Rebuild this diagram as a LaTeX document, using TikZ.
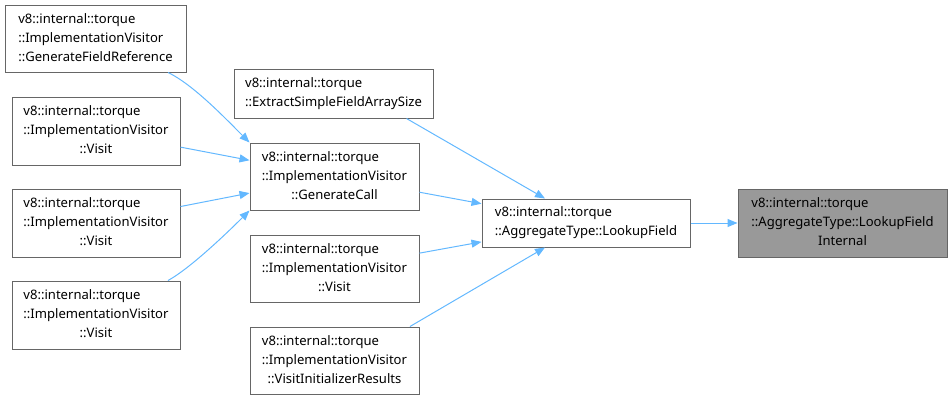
\documentclass[tikz,border=0pt]{standalone}
\usepackage{fontspec}
\setmainfont{Noto Sans}
\usetikzlibrary{arrows.meta}
\definecolor{edgeblue}{HTML}{63B8FF}
\definecolor{boxline}{HTML}{666666}
\definecolor{curfill}{HTML}{999999}
\tikzset{
    % function box of the call graph
    fnbox/.style={draw=boxline, line width=0.75pt, fill=white, inner sep=0pt,
        font=\fontsize{9.8}{14.25}\selectfont, align=left},
    % the function the graph is drawn for
    curbox/.style={fnbox, fill=curfill},
    % caller -> callee edges
    edge/.style={-{Triangle[length=7.5pt, width=6pt]}, edgeblue, line width=0.75pt},
}
% three line label: first lines left, last line centred
\newcommand{\fnname}[3]{\begin{tabular}{@{}l@{}}#1\\#2\\\multicolumn{1}{@{}c@{}}{#3}\end{tabular}}

\begin{document}
\begin{tikzpicture}[x=0.75pt, y=-0.75pt]
    \useasboundingbox (0,0) rectangle (952,400);

    % ---- callers of GenerateCall ----
    \node[fnbox, minimum width=135.75pt, minimum height=50.25pt] (gfr) at (95.5, 38.5)
        {\fnname{v8::internal::torque}{::ImplementationVisitor}{::GenerateFieldReference}};
    \node[fnbox, minimum width=126pt, minimum height=51pt] (visA) at (96, 131)
        {\fnname{v8::internal::torque}{::ImplementationVisitor}{::Visit}};
    \node[fnbox, minimum width=126pt, minimum height=51pt] (visB) at (96, 223)
        {\fnname{v8::internal::torque}{::ImplementationVisitor}{::Visit}};
    \node[fnbox, minimum width=126pt, minimum height=51pt] (visC) at (96, 315)
        {\fnname{v8::internal::torque}{::ImplementationVisitor}{::Visit}};

    % ---- direct callers of LookupField ----
    \node[fnbox, minimum width=149.25pt, minimum height=36.75pt] (esfas) at (333.5, 93.5)
        {v8::internal::torque\\::ExtractSimpleFieldArraySize};
    \node[fnbox, minimum width=126.75pt, minimum height=50.25pt] (gcall) at (334.5, 176.5)
        {\fnname{v8::internal::torque}{::ImplementationVisitor}{::GenerateCall}};
    \node[fnbox, minimum width=126.75pt, minimum height=50.25pt] (visD) at (334.5, 268.5)
        {\fnname{v8::internal::torque}{::ImplementationVisitor}{::Visit}};
    \node[fnbox, minimum width=126.75pt, minimum height=50.25pt] (vir) at (334.5, 360.5)
        {\fnname{v8::internal::torque}{::ImplementationVisitor}{::VisitInitializerResults}};

    % ---- LookupField and the graphed function ----
    \node[fnbox, minimum width=156pt, minimum height=36pt] (lookup) at (586, 223)
        {v8::internal::torque\\::AggregateType::LookupField};
    \node[curbox, minimum width=156.75pt, minimum height=51pt] (lfint) at (842.5, 223)
        {\fnname{v8::internal::torque}{::AggregateType::LookupField}{Internal}};

    % edges into GenerateCall
    \draw[edge] ([xshift=54.4pt]gfr.south) .. controls +(25,12) and +(-25,-25) .. (gcall.north west);
    \draw[edge] (visA) -- (gcall);
    \draw[edge] (visB) -- (gcall);
    \draw[edge] ([xshift=54pt]visC.north) .. controls +(22,-12) and +(-22,22) .. (gcall.south west);

    % edges into LookupField
    \draw[edge] ([xshift=54.75pt]esfas.south) -- ([xshift=-30.75pt]lookup.north);
    \draw[edge] (gcall) -- (lookup);
    \draw[edge] (visD) -- (lookup);
    \draw[edge] ([xshift=56.6pt]vir.north) -- ([xshift=-30.75pt]lookup.south);

    \draw[edge] (lookup) -- (lfint);

\end{tikzpicture}
\end{document}
